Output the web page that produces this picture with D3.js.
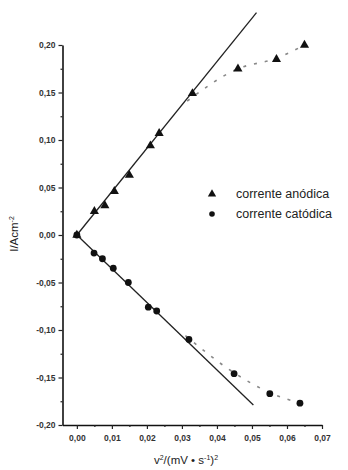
<!DOCTYPE html>
<html>
<head>
<meta charset="utf-8">
<script src="https://cdn.jsdelivr.net/npm/d3@7"></script>
<style>
  body { margin: 0; background: #fff; }
  svg { font-family: "Liberation Sans", Arial, sans-serif; }
</style>
</head>
<body>
<svg width="348" height="470"></svg>
<script>
// 読み取ったデータ (v, I)
var anodic = [[0, 0], [0.005, 0.025], [0.008, 0.031], [0.0107, 0.046], [0.015, 0.063],
              [0.021, 0.094], [0.0235, 0.107], [0.033, 0.149], [0.046, 0.175],
              [0.057, 0.185], [0.065, 0.200]];
var cathodic = [[0, 0], [0.0049, -0.019], [0.0073, -0.025], [0.0104, -0.035], [0.0147, -0.050],
                [0.0204, -0.076], [0.0228, -0.080], [0.032, -0.110], [0.0449, -0.146],
                [0.0551, -0.167], [0.0637, -0.177]];
// 直線フィット
var anodicFit = [[0, 0], [0.0513, 0.234]];
var cathodicFit = [[0, 0], [0.0504, -0.179]];
// 点線部分 (曲がる部分)
var anodicCurve = [[0.0315, 0.141], [0.046, 0.175], [0.057, 0.186], [0.065, 0.200]];
var cathodicCurve = [[0.031, -0.106], [0.0449, -0.145], [0.0551, -0.166], [0.0637, -0.177]];

var xTicks = [0, 0.01, 0.02, 0.03, 0.04, 0.05, 0.06, 0.07];
var yTicks = [-0.20, -0.15, -0.10, -0.05, 0, 0.05, 0.10, 0.15, 0.20];
var legendItems = ["corrente anódica", "corrente catódica"];

var svg = d3.select("svg");
var fmt = function(d) { return d3.format(".2f")(d).replace(".", ",").replace("−", "-"); };

var x = d3.scaleLinear().domain([-0.0041, 0.07]).range([62.5, 322]);
var y = d3.scaleLinear().domain([-0.20, 0.20]).range([425, 45]);

// 軸
svg.append("g").attr("transform", "translate(0," + y(-0.20) + ")")
  .call(d3.axisBottom(x).tickValues(xTicks).tickFormat(fmt).tickSize(4).tickPadding(6).tickSizeOuter(0));
svg.append("g").attr("transform", "translate(0," + y(-0.20) + ")")
  .call(d3.axisBottom(x).tickValues(d3.range(0.005, 0.07, 0.01)).tickFormat("").tickSize(2).tickSizeOuter(0))
  .select(".domain").remove();

svg.append("g").attr("transform", "translate(" + x.range()[0] + ",0)")
  .call(d3.axisLeft(y).tickValues(yTicks).tickFormat(fmt).tickSize(4).tickPadding(3).tickSizeOuter(0));
svg.append("g").attr("transform", "translate(" + x.range()[0] + ",0)")
  .call(d3.axisLeft(y).tickValues(d3.range(-0.175, 0.2, 0.05)).tickFormat("").tickSize(2).tickSizeOuter(0))
  .select(".domain").remove();

svg.selectAll(".domain").attr("stroke", "#111").attr("stroke-width", 1.6);
svg.selectAll(".tick line").attr("stroke", "#222").attr("stroke-width", 1.2);
svg.selectAll(".tick text").attr("font-size", 8.5).attr("fill", "#333").attr("font-weight", "bold");

// 軸ラベル
var xl = svg.append("text").attr("x", 186).attr("y", 464).attr("text-anchor", "middle")
  .attr("font-size", 11.5).attr("fill", "#222");
xl.append("tspan").text("v");
xl.append("tspan").attr("dy", -4).attr("font-size", 7).text("2");
xl.append("tspan").attr("dy", 4).text("/(mV • s");
xl.append("tspan").attr("dy", -4).attr("font-size", 7).text("-1");
xl.append("tspan").attr("dy", 4).text(")");
xl.append("tspan").attr("dy", -4).attr("font-size", 7).text("2");

var yl = svg.append("text").attr("transform", "translate(18,234) rotate(-90)")
  .attr("text-anchor", "middle").attr("font-size", 11.5).attr("fill", "#222");
yl.append("tspan").text("I/Acm");
yl.append("tspan").attr("dy", -4).attr("font-size", 7).text("-2");

// フィット線
var line = d3.line().x(function(d) { return x(d[0]); }).y(function(d) { return y(d[1]); });
[anodicFit, cathodicFit].forEach(function(f) {
  svg.append("path").attr("d", line(f)).attr("fill", "none")
    .attr("stroke", "#222").attr("stroke-width", 1.3);
});
var curve = d3.line().curve(d3.curveMonotoneX)
  .x(function(d) { return x(d[0]); }).y(function(d) { return y(d[1]); });
[anodicCurve, cathodicCurve].forEach(function(c) {
  svg.append("path").attr("d", curve(c)).attr("fill", "none")
    .attr("stroke", "#888").attr("stroke-width", 1.6).attr("stroke-dasharray", "3,8");
});

// マーカー
var tri = d3.symbol().type(d3.symbolTriangle).size(36);
svg.append("g").selectAll("path").data(anodic).enter().append("path")
  .attr("d", tri).attr("fill", "#111")
  .attr("transform", function(d) { return "translate(" + x(d[0]) + "," + y(d[1]) + ")"; });
svg.append("g").selectAll("circle").data(cathodic).enter().append("circle")
  .attr("cx", function(d) { return x(d[0]); }).attr("cy", function(d) { return y(d[1]); })
  .attr("r", 3.4).attr("fill", "#111");

// 凡例
var legend = svg.append("g").attr("transform", "translate(212,194)");
legend.append("path").attr("d", d3.symbol().type(d3.symbolTriangle).size(30)).attr("fill", "#111");
legend.append("circle").attr("cx", 0).attr("cy", 20).attr("r", 2.8).attr("fill", "#111");
legend.selectAll("text").data(legendItems).enter().append("text")
  .attr("x", 24).attr("y", function(d, i) { return i * 20 + 4; })
  .attr("font-size", 12.5).attr("fill", "#222").text(function(d) { return d; });
</script>
</body>
</html>
